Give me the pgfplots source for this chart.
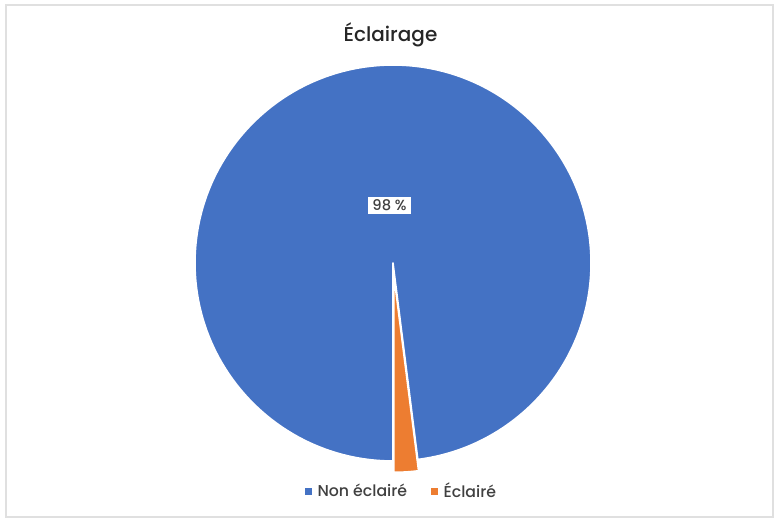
\documentclass[border=0pt]{standalone}
\usepackage{pgfplots}
\pgfplotsset{compat=1.18}
\usepackage{pgfplotstable}
\usepackage{fontspec}
\setmainfont{Poppins}[UprightFont=* Medium]
\definecolor{pieblue}{HTML}{4472C4}
\definecolor{pieorange}{HTML}{ED7D31}
\definecolor{txt}{HTML}{404040}
\definecolor{ttl}{HTML}{262626}

\pgfplotstableread{
label value
Non 98
Ecl 2
}\piedata

\begin{document}
\begin{tikzpicture}
\pgfplotstablegetelem{0}{value}\of\piedata \let\va\pgfplotsretval
\pgfplotstablegetelem{1}{value}\of\piedata \let\vb\pgfplotsretval
\pgfmathsetmacro\total{\va+\vb}
\pgfmathsetmacro\fa{\va/\total}
\pgfmathsetmacro\fb{\vb/\total}
\pgfmathsetmacro\aStart{270}
\pgfmathsetmacro\aEnd{270-360*\fa}
\pgfmathsetmacro\bEnd{\aEnd-360*\fb}
\pgfmathsetmacro\bMid{(\aEnd+\bEnd)/2}
\pgfmathtruncatemacro\pct{round(100*\fa)}
\begin{axis}[x=0.75pt,y=0.75pt,xmin=0,xmax=774,ymin=0,ymax=518,
  hide axis, clip=false,
  legend style={at={(0.5175,0.051)},anchor=center,draw=none,fill=none,
    legend columns=2,font=\fontsize{11.8}{13}\selectfont\color{txt},
    /tikz/every even column/.style={column sep=18pt},
    /tikz/every odd column/.style={column sep=0pt},
    nodes={inner xsep=0pt}},
  legend cell align=left,
]
\fill[white] (axis cs:0,0) rectangle (axis cs:774,518);
\draw[black!12, line width=0.8pt] (axis cs:6,1) rectangle (axis cs:773,513);
% pie slices from table values
\filldraw[fill=pieblue, draw=white, line width=1.2pt, line join=round]
  (axis cs:393,255) -- ++(\aStart:148.5pt)
  arc[start angle=\aStart, end angle=\aEnd, radius=148.5pt] -- cycle;
\begin{scope}[shift={(\bMid:8.5pt)}]
\filldraw[fill=pieorange, draw=white, line width=1.2pt, line join=round]
  (axis cs:393,255) -- ++(\aEnd:148.5pt)
  arc[start angle=\aEnd, end angle=\bEnd, radius=148.5pt] -- cycle;
\end{scope}
\node[fill=white, text=txt, font=\fontsize{11}{13}\selectfont, inner xsep=3pt, inner ysep=2.5pt]
  at (axis cs:389.5,312.5) {\pct~\%};
\node[anchor=base, font=\fontsize{15}{17}\selectfont, text=ttl]
  at (axis cs:390.5,476) {Éclairage};
\addlegendimage{legend image code/.code={\fill[pieblue] (0pt,-2.25pt) rectangle (4.5pt,2.25pt); \path (9pt,0pt);}}
\addlegendentry{Non éclairé}
\addlegendimage{legend image code/.code={\fill[pieorange] (0pt,-2.25pt) rectangle (4.5pt,2.25pt); \path (9pt,0pt);}}
\addlegendentry{Éclairé}
\end{axis}
\end{tikzpicture}
\end{document}
